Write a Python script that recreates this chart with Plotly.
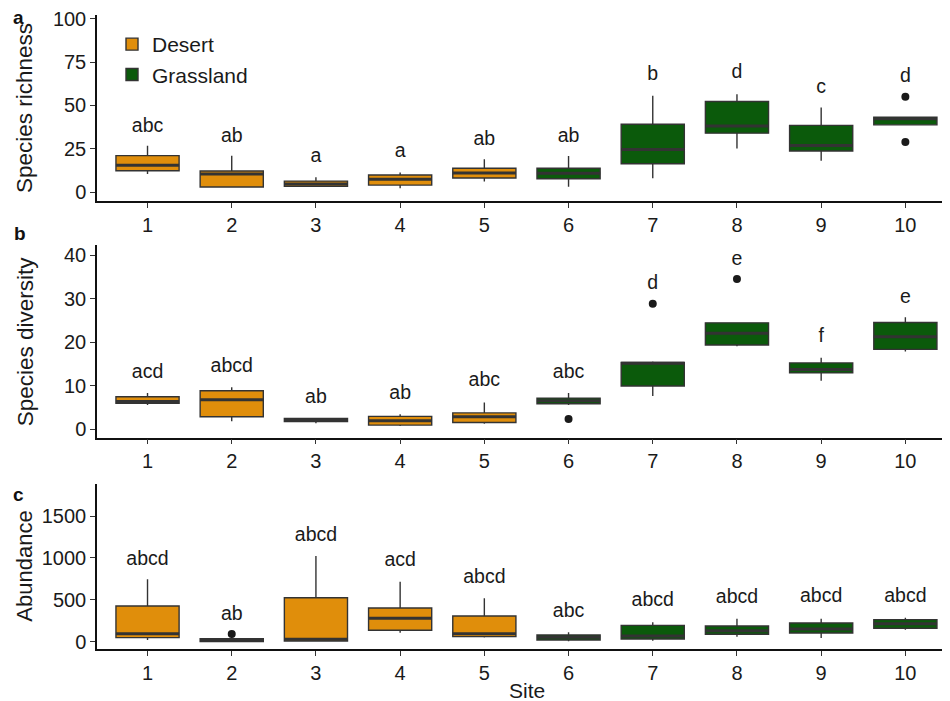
import plotly.graph_objects as go

# ---------------- data ----------------
sites = [1, 2, 3, 4, 5, 6, 7, 8, 9, 10]
habitat = ["Desert"] * 5 + ["Grassland"] * 5

# Panel a: species richness
rich_q1 = [12.3, 2.9, 3.3, 4.0, 8.1, 7.7, 16.3, 34.0, 23.7, 38.8]
rich_med = [15.4, 10.4, 4.6, 7.3, 11.0, 10.8, 24.6, 38.1, 26.9, 42.3]
rich_q3 = [21.0, 12.1, 6.3, 9.8, 13.7, 13.7, 39.2, 52.3, 38.5, 43.3]
rich_lo = [10.4, 2.5, 3.0, 2.1, 6.0, 3.1, 7.9, 25.2, 18.1, 38.8]
rich_hi = [26.7, 21.0, 8.5, 11.3, 18.9, 20.8, 55.6, 56.5, 48.9, 43.3]
rich_out_x = [10, 10]
rich_out_y = [55.0, 28.9]
rich_letters = ["abc", "ab", "a", "a", "ab", "ab", "b", "d", "c", "d"]
rich_letter_y = [37.7, 31.9, 20.4, 22.9, 30.0, 31.9, 67.5, 68.5, 59.8, 66.5]

# Panel b: species diversity
div_q1 = [5.9, 2.8, 1.7, 0.9, 1.5, 5.8, 9.9, 19.3, 12.9, 18.3]
div_med = [6.3, 6.7, 2.1, 1.9, 2.8, 6.5, 15.1, 22.0, 13.7, 21.2]
div_q3 = [7.4, 8.8, 2.4, 2.9, 3.7, 7.1, 15.3, 24.4, 15.2, 24.5]
div_lo = [5.5, 1.8, 1.3, 0.7, 1.2, 5.5, 7.6, 19.0, 11.1, 17.8]
div_hi = [8.3, 9.6, 2.5, 3.4, 6.1, 8.3, 15.5, 24.5, 16.4, 25.7]
div_out_x = [6, 7, 8]
div_out_y = [2.3, 28.8, 34.5]
div_letters = ["acd", "abcd", "ab", "ab", "abc", "abc", "d", "e", "f", "e"]
div_letter_y = [12.8, 14.2, 7.1, 8.0, 10.9, 12.8, 33.3, 38.9, 21.2, 30.2]

# Panel c: abundance
ab_q1 = [48, 2, 8, 136, 60, 20, 32, 88, 104, 160]
ab_med = [95, 15, 28, 279, 95, 52, 68, 131, 151, 215]
ab_q3 = [426, 35, 525, 402, 307, 80, 195, 187, 223, 263]
ab_lo = [20, 0, 5, 107, 50, 5, 12, 60, 44, 143]
ab_hi = [744, 55, 1022, 716, 517, 112, 231, 275, 275, 286]
ab_out_x = [2]
ab_out_y = [92]
ab_letters = ["abcd", "ab", "abcd", "acd", "abcd", "abc", "abcd", "abcd", "abcd", "abcd"]
ab_letter_y = [975, 318, 1261, 963, 756, 358, 486, 517, 530, 530]

panel_tags = ["a", "b", "c"]
y_titles = ["Species richness", "Species diversity", "Abundance"]
y_ticks = [[0, 25, 50, 75, 100], [0, 10, 20, 30, 40], [0, 500, 1000, 1500]]
y_ranges = [[-5.2, 102.3], [-2.0, 42.3], [-91, 1882]]

colors = {"Desert": "#E08E0B", "Grassland": "#0B5A0B"}
OUTLINE = "#333333"
BOX_W = 0.75
FONT = "Liberation Sans, Arial, sans-serif"

# The page body adds an 8px offset; layout in reference pixels minus that offset
OFF = 8
W, H = 950 - OFF, 701 - OFF
ML = 97 - OFF
PW = W - ML


def fy(py):  # reference pixel y -> paper fraction
    return 1 - (py - OFF) / H


def fx(px):  # reference pixel x -> paper fraction
    return (px - OFF - ML) / PW


panels_px = [(15, 201), (245, 437.7), (484, 649.3)]
domains = [[fy(b), fy(t)] for t, b in panels_px]

panels = [
    (rich_q1, rich_med, rich_q3, rich_lo, rich_hi, rich_out_x, rich_out_y, rich_letters, rich_letter_y),
    (div_q1, div_med, div_q3, div_lo, div_hi, div_out_x, div_out_y, div_letters, div_letter_y),
    (ab_q1, ab_med, ab_q3, ab_lo, ab_hi, ab_out_x, ab_out_y, ab_letters, ab_letter_y),
]

fig = go.Figure()

for p, (q1, med, q3, lo, hi, ox, oy, let, ly) in enumerate(panels):
    xa = "x" if p == 0 else f"x{p + 1}"
    ya = "y" if p == 0 else f"y{p + 1}"
    for grp in ["Desert", "Grassland"]:
        idx = [i for i, h in enumerate(habitat) if h == grp]
        fig.add_trace(go.Box(
            x=[sites[i] for i in idx],
            q1=[q1[i] for i in idx],
            median=[med[i] for i in idx],
            q3=[q3[i] for i in idx],
            lowerfence=[lo[i] for i in idx],
            upperfence=[hi[i] for i in idx],
            width=BOX_W,
            whiskerwidth=0,
            boxpoints=False,
            fillcolor=colors[grp],
            line=dict(color=OUTLINE, width=1.4),
            name=grp,
            legendgroup=grp,
            showlegend=(p == 0),
            xaxis=xa, yaxis=ya,
            hoverinfo="skip",
        ))
    # thicker median bars
    mx, my = [], []
    for s, m in zip(sites, med):
        mx += [s - BOX_W / 2, s + BOX_W / 2, None]
        my += [m, m, None]
    fig.add_trace(go.Scatter(x=mx, y=my, mode="lines",
                             line=dict(color=OUTLINE, width=3),
                             showlegend=False, hoverinfo="skip",
                             xaxis=xa, yaxis=ya))
    # outliers
    fig.add_trace(go.Scatter(x=ox, y=oy, mode="markers",
                             marker=dict(color="#1a1a1a", size=8),
                             showlegend=False, hoverinfo="skip",
                             xaxis=xa, yaxis=ya))
    # significance letters
    fig.add_trace(go.Scatter(x=sites, y=ly, mode="text", text=let,
                             textposition="middle center",
                             textfont=dict(size=19.5, color="#1a1a1a", family=FONT),
                             showlegend=False, hoverinfo="skip",
                             xaxis=xa, yaxis=ya))

layout = dict(
    width=W, height=H,
    margin=dict(l=ML, r=0, t=0, b=0, autoexpand=False),
    plot_bgcolor="white", paper_bgcolor="white",
    font=dict(family=FONT, color="#1a1a1a"),
    boxmode="overlay",
    legend=dict(x=fx(112), y=fy(24), xanchor="left", yanchor="top",
                font=dict(size=21, color="#1a1a1a", family=FONT),
                bgcolor="rgba(0,0,0,0)", tracegroupgap=0, itemwidth=30),
)

annotations = []
for p in range(3):
    xk = "xaxis" if p == 0 else f"xaxis{p + 1}"
    yk = "yaxis" if p == 0 else f"yaxis{p + 1}"
    ya = "y" if p == 0 else f"y{p + 1}"
    layout[xk] = dict(
        domain=[0, 1], range=[0.4, 10.53], anchor=ya, automargin=False,
        tickvals=sites, ticktext=[str(s) for s in sites],
        showline=True, linecolor="#111111", linewidth=1.5,
        ticks="outside", ticklen=5, tickcolor="#333333", tickwidth=1.2,
        showgrid=False, zeroline=False, ticklabeloverflow="allow",
        tickfont=dict(size=20, color="#1a1a1a", family=FONT),
    )
    layout[yk] = dict(
        domain=domains[p], range=y_ranges[p], anchor="x" if p == 0 else f"x{p + 1}",
        automargin=False, ticklabeloverflow="allow",
        tickvals=y_ticks[p],
        showline=True, linecolor="#111111", linewidth=1.5,
        ticks="outside", ticklen=5, tickcolor="#333333", tickwidth=1.2,
        showgrid=False, zeroline=False,
        tickfont=dict(size=20, color="#1a1a1a", family=FONT),
    )
    t, b = panels_px[p]
    annotations.append(dict(
        text=y_titles[p], textangle=-90, xref="paper", yref="paper",
        x=fx(25), y=fy((t + b) / 2),
        xanchor="center", yanchor="middle", showarrow=False,
        font=dict(size=22.5 if p < 2 else 22, color="#1a1a1a", family=FONT),
    ))

tag_px = [(18, 17), (20, 233), (18, 494)]
for tag, (px, py) in zip(panel_tags, tag_px):
    annotations.append(dict(
        text=f"<b>{tag}</b>", xref="paper", yref="paper",
        x=fx(px), y=fy(py), xanchor="center", yanchor="middle",
        showarrow=False, font=dict(size=19, color="#111111", family=FONT),
    ))

annotations.append(dict(
    text="Site", xref="paper", yref="paper",
    x=fx(527), y=fy(690), xanchor="center", yanchor="middle",
    showarrow=False, font=dict(size=21, color="#1a1a1a", family=FONT),
))

layout["annotations"] = annotations
fig.update_layout(**layout)
fig.write_html("out.html")
